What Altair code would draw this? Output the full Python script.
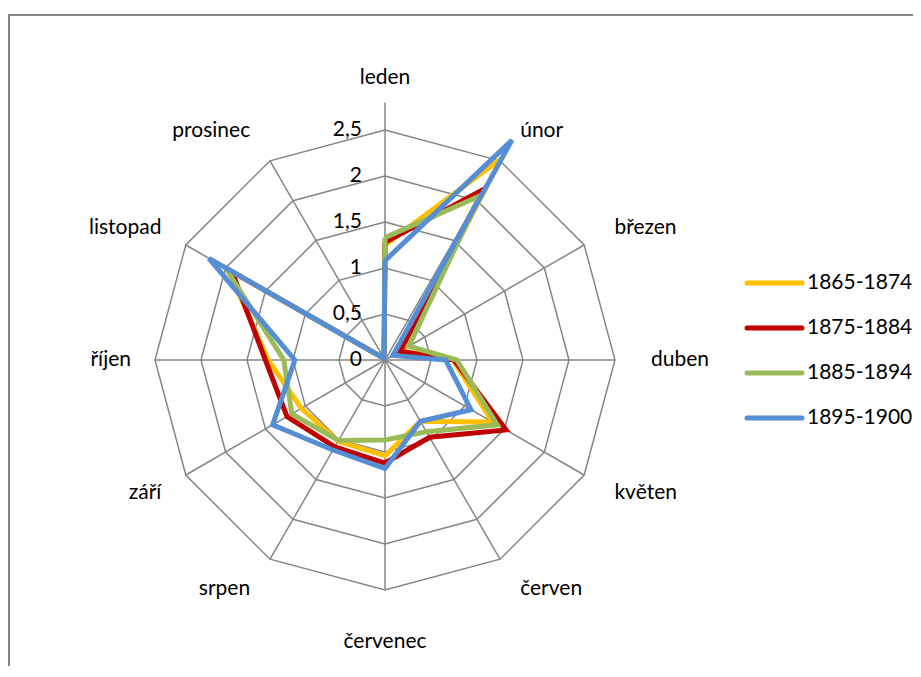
import math
import pandas as pd
import altair as alt

# ---------------- data ----------------
months = ["leden", "únor", "březen", "duben", "květen", "červen",
          "červenec", "srpen", "září", "říjen", "listopad", "prosinec"]
series_names = ["1865-1874", "1875-1884", "1885-1894", "1895-1900"]
v1865 = [1.25, 2.53, 0.20, 0.74, 1.35, 0.77, 1.04, 1.02, 1.05, 1.27, 1.97, 0.02]
v1875 = [1.28, 2.14, 0.19, 0.75, 1.52, 0.97, 1.12, 1.09, 1.23, 1.30, 1.92, 0.02]
v1885 = [1.33, 2.06, 0.30, 0.78, 1.41, 0.90, 0.87, 1.01, 1.17, 1.10, 2.00, 0.02]
v1895 = [1.08, 2.76, 0.10, 0.66, 1.08, 0.77, 1.18, 1.13, 1.41, 0.98, 2.21, 0.02]
tick_values = [0, 0.5, 1, 1.5, 2, 2.5]
tick_labels = ["0", "0,5", "1", "1,5", "2", "2,5"]
colors = ["#FFC000", "#C00000", "#9BBB59", "#558ED5"]

# ---------------- layout ----------------
W, H = 905, 658          # chart size (px)
CX, CY = 377, 352        # centre of the radar in chart px
PX = 92.0                # pixels per 1.0 value unit
GRID = "#868686"
FONT = "Lato"
FS = 21

xdom = [(0 - CX) / PX, (W - CX) / PX]
ydom = [(CY - H) / PX, CY / PX]
xs = alt.Scale(domain=xdom, nice=False, zero=False)
ys = alt.Scale(domain=ydom, nice=False, zero=False)
X = lambda f: alt.X(f, type="quantitative", scale=xs, axis=None)
Y = lambda f: alt.Y(f, type="quantitative", scale=ys, axis=None)

n = len(months)
ang = [2 * math.pi * i / n for i in range(n)]

# series polygons
rows = []
for s, vals in zip(series_names, [v1865, v1875, v1885, v1895]):
    for i in range(n + 1):
        m = i % n
        rows.append({"series": s, "idx": i, "month": months[m],
                     "x": vals[m] * math.sin(ang[m]), "y": vals[m] * math.cos(ang[m])})
ser_df = pd.DataFrame(rows)

# rings
ring_rows = []
for lev in tick_values[1:]:
    for i in range(n + 1):
        m = i % n
        ring_rows.append({"lev": lev, "idx": i,
                          "x": lev * math.sin(ang[m]), "y": lev * math.cos(ang[m])})
ring_df = pd.DataFrame(ring_rows)

# spokes (value axis on leden extends a bit further)
spoke_rows = []
for i in range(n):
    r = 2.8 if i == 0 else tick_values[-1]
    spoke_rows.append({"x0": 0.0, "y0": 0.0,
                       "x1": r * math.sin(ang[i]), "y1": r * math.cos(ang[i])})
spoke_df = pd.DataFrame(spoke_rows)

# tick labels
tick_df = pd.DataFrame({"lab": tick_labels, "y": tick_values,
                        "x": [-23 / PX] * len(tick_values)})

# month labels
lab_rows = []
for i, mname in enumerate(months):
    s, c = math.sin(ang[i]), math.cos(ang[i])
    if abs(s) < 0.1:
        al = "center"
        x = 0.0
        y = (282 if c > 0 else -282) / PX
    else:
        al = "left" if s > 0 else "right"
        pad = 10 + 6 * s ** 5
        x = (250 * s + (pad if s > 0 else -pad)) / PX
        y = 265 * c / PX
    lab_rows.append({"m": mname, "x": x, "y": y, "al": al})
lab_df = pd.DataFrame(lab_rows)

# legend
leg_rows = []
for k, s in enumerate(series_names):
    ypx = 275 + 45 * k
    leg_rows.append({"series": s, "x0": (739 - CX) / PX, "x1": (794 - CX) / PX,
                     "xt": (799 - CX) / PX, "y": (CY - ypx) / PX})
leg_df = pd.DataFrame(leg_rows)

color = alt.Color("series:N", scale=alt.Scale(domain=series_names, range=colors), legend=None)

# ---------------- layers ----------------
rings = alt.Chart(ring_df).mark_line(stroke=GRID, strokeWidth=1.5).encode(
    x=X("x"), y=Y("y"), detail="lev:N", order="idx:Q")
spokes = alt.Chart(spoke_df).mark_rule(stroke=GRID, strokeWidth=1.5).encode(
    x=X("x0"), y=Y("y0"), x2="x1", y2="y1")
ticks = alt.Chart(tick_df).mark_text(align="right", baseline="middle", font=FONT,
                                     fontSize=FS, color="black").encode(
    x=X("x"), y=Y("y"), text="lab:N")

lab_layers = []
for al in ["left", "right", "center"]:
    lab_layers.append(
        alt.Chart(lab_df[lab_df["al"] == al]).mark_text(
            align=al, baseline="middle", font=FONT, fontSize=FS, color="black").encode(
            x=X("x"), y=Y("y"), text="m:N"))

lines = alt.Chart(ser_df).mark_line(strokeWidth=5, strokeJoin="miter").encode(
    x=X("x"), y=Y("y"), color=color, order="idx:Q")

leg_lines = alt.Chart(leg_df).mark_rule(strokeWidth=5, strokeCap="round").encode(
    x=X("x0"), x2="x1", y=Y("y"), color=color)
leg_text = alt.Chart(leg_df).mark_text(align="left", baseline="middle", font=FONT,
                                       fontSize=FS, color="black").encode(
    x=X("xt"), y=Y("y"), text="series:N")

frame_l = alt.Chart(pd.DataFrame({"a": [0]})).mark_rule(stroke=GRID, strokeWidth=2).encode(
    x=alt.value(1), y=alt.value(7), y2=alt.value(H))
frame_t = alt.Chart(pd.DataFrame({"a": [0]})).mark_rule(stroke=GRID, strokeWidth=2).encode(
    x=alt.value(0), x2=alt.value(W), y=alt.value(7))

chart = alt.layer(
    frame_l, frame_t, rings, spokes, lines, ticks, *lab_layers, leg_lines, leg_text
).properties(
    width=W, height=H, padding=0, autosize=alt.AutoSizeParams(type="none"),
    background="white"
).configure_view(stroke=None)

chart.save("out.html", embed_options={"renderer": "svg", "actions": False})
